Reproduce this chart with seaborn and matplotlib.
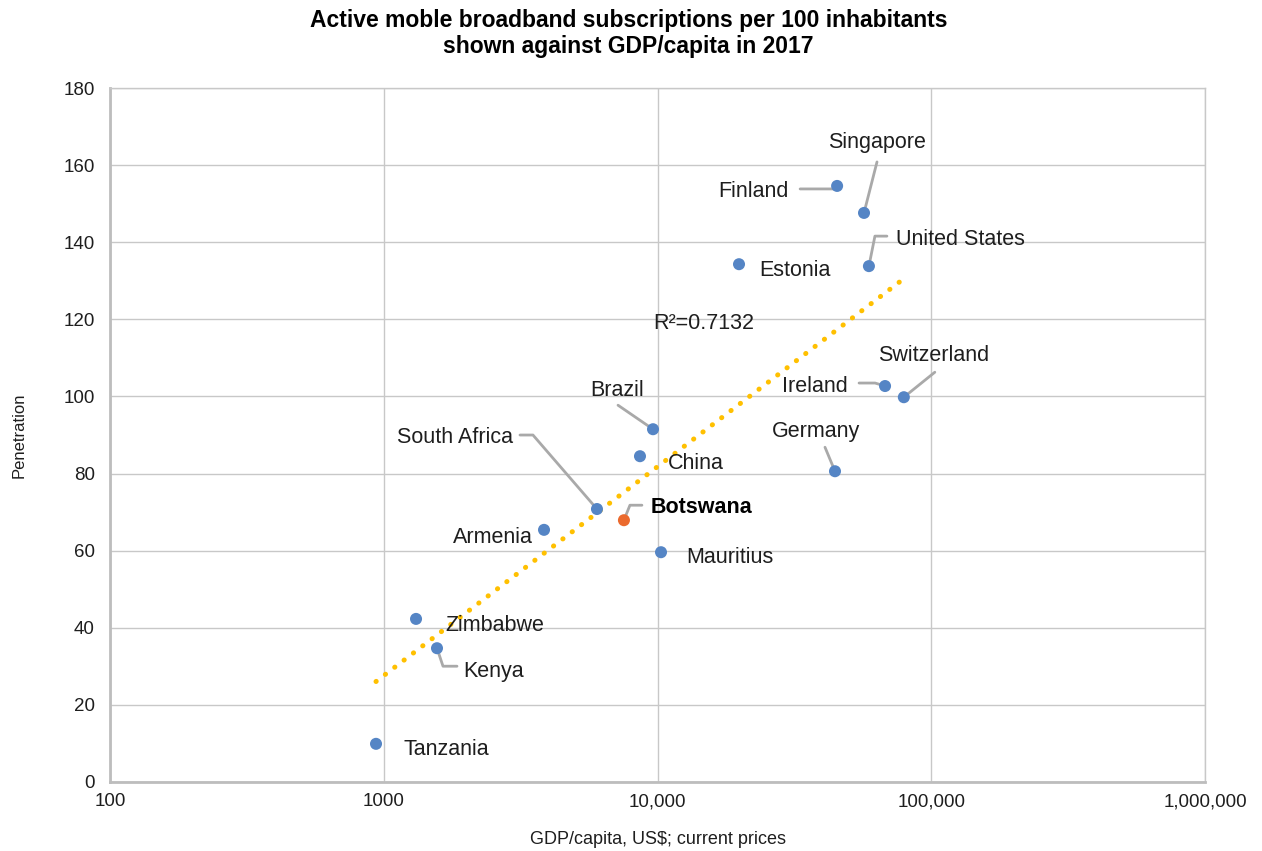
import numpy as np
import pandas as pd
import matplotlib.pyplot as plt
import matplotlib.transforms as mtransforms
import matplotlib.ticker as mticker
import seaborn as sns

# ------------------------------------------------------
# DATA
# ------------------------------------------------------

countries = ['Tanzania', 'Zimbabwe', 'Kenya', 'Armenia', 'South Africa', 'Botswana',
             'China', 'Brazil', 'Mauritius', 'Estonia', 'Germany', 'Finland',
             'Singapore', 'United States', 'Ireland', 'Switzerland']
gdp_per_capita = [937, 1312, 1565, 3850, 6010, 7540,
                  8630, 9630, 10300, 19850, 44500, 45300,
                  56800, 59200, 67800, 79400]
penetration = [9.9, 42.3, 34.7, 65.4, 70.8, 67.9,
               84.5, 91.5, 59.6, 134.3, 80.6, 154.6,
               147.6, 133.8, 102.7, 99.8]
highlight = 'Botswana'
r2_text = 'R²=0.7132'

data = pd.DataFrame({'Country': countries, 'GDP': gdp_per_capita, 'Penetration': penetration})
data['Group'] = np.where(data['Country'] == highlight, 'Highlight', 'Other')

# ------------------------------------------------------
# STYLE
# ------------------------------------------------------

sns.set_theme(style='whitegrid')
plt.rcParams['font.family'] = ['Liberation Sans', 'DejaVu Sans']

blue = '#5585c5'
orange = '#eb6a2e'
gold = '#ffc000'
grid_grey = '#c8c8c8'
leader_grey = '#a9a9a9'
text_col = '#1e1e1e'

fig = plt.figure(figsize=(12.62, 8.51), dpi=100)
ax = fig.add_axes([110 / 1262, 1 - 782 / 851, (1205 - 110) / 1262, (782 - 88) / 851])

# Trendline (log fit)
b, a = np.polyfit(np.log(data['GDP']), data['Penetration'], 1)
xs = np.logspace(np.log10(data['GDP'].min()), np.log10(data['GDP'].max()), 200)
ax.plot(xs, a + b * np.log(xs), linestyle=(0, (0.05, 2.3)), dash_capstyle='round',
        color=gold, lw=3.6, zorder=2)

sns.scatterplot(data=data, x='GDP', y='Penetration', hue='Group',
                palette={'Other': blue, 'Highlight': orange},
                s=75, edgecolor='none', legend=False, ax=ax, zorder=3)

ax.set_xscale('log')
ax.set_xlim(100, 1e6)
ax.set_ylim(0, 180)
ax.set_yticks(range(0, 181, 20))
ax.xaxis.set_major_locator(mticker.FixedLocator([100, 1000, 10000, 100000, 1000000]))
ax.xaxis.set_minor_locator(mticker.NullLocator())
ax.set_xticklabels(['100', '1000', '10,000', '100,000', '1,000,000'])
ax.tick_params(axis='both', labelsize=13.5, colors=text_col, length=0)
ax.tick_params(axis='y', pad=11)
ax.tick_params(axis='x', pad=8)
ax.grid(True, color=grid_grey, lw=1)
for side in ['top', 'right']:
    ax.spines[side].set_color(grid_grey)
    ax.spines[side].set_linewidth(1)
for side in ['left', 'bottom']:
    ax.spines[side].set_color('#bdbdbd')
    ax.spines[side].set_linewidth(2)

ax.set_xlabel('GDP/capita, US$; current prices', fontsize=13, color=text_col)
ax.xaxis.set_label_coords(0.5, -0.07)
ax.set_ylabel('Penetration', fontsize=12, color=text_col)
ax.yaxis.set_label_coords(-0.076, 0.5)

fig.suptitle('Active moble broadband subscriptions per 100 inhabitants\nshown against GDP/capita in 2017',
             fontsize=16.5, fontweight='bold', y=0.99, x=0.498, linespacing=1.2, color='black')

ax.text(9630, 119, r2_text, fontsize=15.5, color=text_col, va='center', ha='left')

# ------------------------------------------------------
# LABELS (pixel offsets from each point, image coords: +y down)
# ------------------------------------------------------

label_layout = {
    'Tanzania': ((27, 6), 'left', None),
    'Zimbabwe': ((29, 7), 'left', None),
    'Kenya': ((26, 23), 'left', [(0, 0), (6, 18), (20, 18)]),
    'Armenia': ((-11, 8), 'right', None),
    'South Africa': ((-84, -72), 'right', [(0, 0), (-64, -74), (-77, -74)]),
    'Botswana': ((27, -13), 'left', [(0, 0), (6, -15), (18, -15)]),
    'China': ((28, 7), 'left', None),
    'Brazil': ((-36, -39), 'center', [(0, 0), (-35, -24)]),
    'Mauritius': ((25, 5), 'left', None),
    'Estonia': ((20, 6), 'left', None),
    'Germany': ((-19, -40), 'center', [(0, 0), (-10, -24)]),
    'Finland': ((-48, 6), 'right', [(0, 0), (-3, 3), (-37, 3)]),
    'Singapore': ((13, -70), 'center', [(0, 0), (13, -51)]),
    'United States': ((27, -27), 'left', [(0, 0), (6, -30), (18, -30)]),
    'Ireland': ((-37, 0), 'right', [(0, 0), (-10, -3), (-26, -3)]),
    'Switzerland': ((30, -42), 'center', [(0, 0), (31, -25)]),
}

ident = mtransforms.IdentityTransform()
for _, row in data.iterrows():
    (tx, ty), ha, leader = label_layout[row['Country']]
    px, py = ax.transData.transform((row['GDP'], row['Penetration']))
    if leader:
        lx = [px + dx for dx, dy in leader]
        ly = [py - dy for dx, dy in leader]
        ax.plot(lx, ly, color=leader_grey, lw=2, transform=ident, zorder=1,
                solid_joinstyle='round')
    weight = 'bold' if row['Country'] == highlight else 'normal'
    ax.text(px + tx, py - ty, row['Country'], transform=ident, fontsize=15.5,
            ha=ha, va='center', fontweight=weight, color='black' if weight == 'bold' else text_col,
            zorder=4)

fig.savefig('out.png', dpi=100)
